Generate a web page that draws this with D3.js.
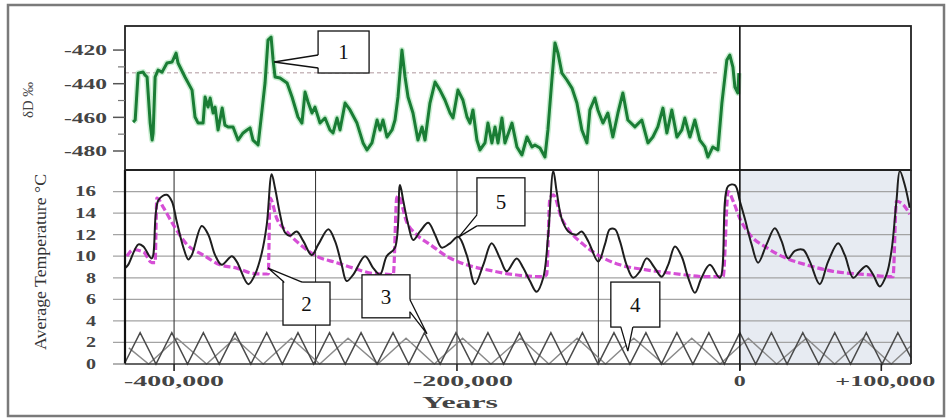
<!DOCTYPE html>
<html><head><meta charset="utf-8">
<script src="https://cdn.jsdelivr.net/npm/d3@7"></script>
<style>body{margin:0;background:#fff}</style>
</head><body><svg id="c" width="946" height="418"></svg>
<script>
// ---------- DATA (time in thousands of years) ----------
const dDTime=[-429.0,-427.5,-425.4,-421.9,-420.5,-419.1,-416.9,-415.5,-414.8,-413.4,-411.3,-408.5,-405.0,-401.4,-398.6,-397.2,-392.3,-387.3,-385.2,-383.0,-379.5,-378.1,-376.0,-374.5,-372.4,-371.0,-368.9,-366.0,-364.1,-361.8,-358.3,-354.8,-351.2,-348.4,-346.3,-344.2,-340.6,-337.8,-335.7,-333.6,-331.4,-330.0,-328.6,-325.1,-320.1,-316.6,-312.4,-309.6,-307.4,-305.3,-302.5,-300.4,-296.8,-293.3,-289.8,-287.6,-284.8,-282.7,-279.1,-275.6,-270.7,-266.4,-263.6,-260.1,-256.5,-254.4,-252.3,-249.5,-245.9,-243.8,-241.7,-238.9,-236.7,-234.6,-231.1,-227.6,-224.7,-222.6,-219.1,-215.5,-212.0,-208.5,-204.9,-202.8,-199.3,-195.8,-192.9,-190.8,-188.7,-185.9,-183.7,-180.2,-178.1,-175.3,-173.1,-171.0,-168.2,-166.1,-161.1,-157.6,-154.1,-150.5,-147.0,-144.9,-141.3,-137.8,-135.7,-132.9,-130.7,-128.6,-125.8,-122.3,-118.7,-115.2,-111.7,-108.1,-106.0,-102.5,-100.4,-96.8,-93.3,-89.8,-86.2,-82.7,-79.2,-74.2,-69.3,-65.0,-61.5,-58.0,-54.4,-51.6,-48.1,-44.5,-41.0,-38.9,-35.3,-31.8,-28.3,-24.7,-22.6,-19.1,-15.5,-12.7,-9.2,-7.1,-4.9,-3.5,-1.4,-0.7];
const dDValue=[-462.8,-461.6,-433.7,-433.1,-434.9,-436.0,-463.4,-473.5,-469.3,-436.0,-431.9,-433.1,-427.7,-427.1,-421.8,-427.7,-436.0,-443.8,-459.8,-463.4,-463.4,-447.9,-453.9,-448.5,-457.4,-453.9,-467.5,-454.5,-464.6,-465.7,-465.7,-473.5,-469.3,-467.5,-466.3,-473.5,-476.4,-455.6,-439.6,-414.1,-412.3,-425.9,-436.0,-436.6,-439.6,-447.9,-459.8,-463.4,-445.0,-450.9,-457.4,-453.9,-463.4,-460.4,-467.5,-469.3,-460.4,-467.5,-451.5,-455.6,-463.4,-475.2,-479.4,-475.2,-461.6,-467.5,-461.6,-471.7,-467.5,-461.6,-447.9,-420.0,-436.0,-447.9,-457.4,-473.5,-465.7,-473.5,-451.5,-439.0,-443.8,-449.7,-457.4,-460.4,-443.8,-449.7,-459.8,-463.4,-455.6,-473.5,-479.4,-475.2,-463.4,-475.2,-465.7,-475.2,-460.4,-475.2,-463.4,-477.6,-482.4,-471.7,-477.6,-476.4,-478.2,-483.6,-467.5,-437.8,-415.8,-421.8,-433.7,-437.8,-442.6,-451.5,-467.5,-475.2,-455.6,-448.5,-455.6,-463.4,-457.4,-471.7,-457.4,-445.5,-461.6,-465.7,-461.6,-475.2,-471.7,-465.7,-454.5,-469.3,-455.6,-471.7,-467.5,-460.4,-471.7,-461.6,-473.5,-477.6,-483.6,-477.6,-479.4,-451.5,-425.9,-423.0,-430.1,-442.0,-445.5,-433.7];
const dDReference=-433.5;

const tempTime=[-434.6,-432.5,-425.2,-421.7,-415.8,-411.1,-405.2,-401.6,-398.1,-393.4,-389.9,-387.5,-380.4,-375.8,-371.0,-366.3,-359.2,-355.7,-347.5,-342.8,-338.0,-334.5,-331.0,-328.6,-325.1,-321.6,-318.0,-313.3,-308.6,-302.7,-298.0,-290.9,-286.2,-281.5,-278.0,-273.3,-265.0,-259.2,-254.4,-249.7,-243.8,-240.3,-237.9,-234.4,-230.9,-226.1,-220.3,-215.5,-210.8,-204.9,-199.1,-193.1,-187.3,-181.4,-175.5,-169.6,-164.9,-157.8,-153.1,-148.4,-143.7,-139.0,-135.5,-131.9,-129.5,-126.0,-121.3,-115.4,-111.9,-107.2,-100.1,-95.4,-91.9,-88.3,-84.8,-80.1,-75.4,-70.7,-65.9,-60.1,-55.3,-50.7,-45.9,-41.2,-36.5,-31.8,-27.1,-21.2,-14.1,-8.3,-3.5,0,3.5,8.3,12.9,18.9,24.7,29.5,34.1,38.9,44.7,49.5,56.5,62.4,69.5,74.2,80.1,84.8,89.5,94.2,98.9,103.7,107.2,110.7,113.1,116.6,120.1];
const tempValue=[8.9,9.2,11.1,10.9,9.8,15.2,15.7,15.1,13.2,10.8,9.7,10.1,12.8,12.0,10.1,9.2,10.0,9.5,7.4,8.3,10.3,12.9,17.6,16.3,13.9,12.2,11.9,12.3,11.4,10.1,11.1,12.5,11.4,9.2,7.7,8.3,10.0,8.9,8.3,10.0,10.8,16.6,15.1,12.9,11.5,12.3,13.1,12.0,10.8,11.2,11.8,10.1,7.4,9.2,11.2,9.8,8.6,9.8,8.9,7.7,6.7,8.0,12.0,17.9,16.0,13.5,12.3,12.0,12.3,11.4,9.5,11.1,12.5,12.5,11.4,9.2,8.0,8.6,9.8,8.9,8.1,9.2,10.9,10.0,8.0,6.6,8.0,9.2,8.0,16.5,16.6,15.1,13.5,11.1,9.4,11.1,12.6,11.4,9.8,10.5,10.6,9.5,7.4,9.5,11.2,10.1,8.0,8.6,9.1,8.3,7.2,8.3,10.5,15.1,17.9,16.6,14.5];

const modelTime=[-433.4,-428.8,-421.7,-415.8,-413.4,-412.2,-407.5,-400.5,-391.0,-379.3,-367.5,-355.7,-344.0,-335.7,-333.4,-332.2,-327.4,-320.4,-311.0,-299.2,-285.0,-273.3,-259.2,-250.9,-245.0,-242.6,-241.5,-235.6,-228.5,-219.1,-207.3,-193.1,-179.0,-160.2,-139.0,-136.6,-134.3,-131.9,-126.0,-120.1,-110.7,-98.9,-84.8,-67.1,-47.1,-23.5,-11.8,-8.3,-4.7,0,7.1,18.9,33.0,47.1,65.9,89.5,108.3,110.7,115.4,120.1];
const modelValue=[10.0,10.6,10.4,9.4,9.4,15.4,14.5,12.9,11.1,10.1,9.2,8.9,8.4,8.35,8.35,15.4,13.5,12.3,11.1,10.0,9.4,8.9,8.4,8.35,8.3,15.4,15.6,13.2,12.0,11.1,10.0,9.2,8.75,8.3,8.1,8.3,15.4,15.7,13.5,12.3,11.1,10.0,9.2,8.75,8.4,8.1,8.1,16.0,15.1,13.5,12.0,10.8,9.8,9.2,8.6,8.3,8.1,15.1,14.8,13.9];

const cycleATime=[-435.2,-424.0,-412.8,-401.6,-390.5,-379.3,-368.1,-356.9,-345.7,-334.5,-323.5,-312.4,-301.3,-290.1,-279.0,-267.8,-256.5,-245.2,-234.1,-223.0,-211.9,-200.7,-189.4,-178.1,-167.0,-155.8,-144.7,-133.6,-122.5,-111.3,-100.2,-89.0,-77.7,-66.4,-55.5,-44.5,-33.2,-21.9,-11.0,0,11.2,22.3,33.4,44.5,55.8,67.1,78.3,89.4,100.6,111.7,121.0];
const cycleAValue=[0,2.9,0,2.9,0,2.9,0,2.9,0,2.9,0,2.9,0,2.9,0,2.9,0,2.9,0,2.9,0,2.9,0,2.9,0,2.9,0,2.9,0,2.9,0,2.9,0,2.9,0,2.9,0,2.9,0,2.9,0,2.9,0,2.9,0,2.9,0,2.9,0,2.9,0.6];
const cycleBTime=[-432.0,-418.0,-398.0,-377.0,-357.0,-337.0,-317.0,-297.0,-277.0,-256.0,-236.0,-216.0,-196.0,-176.0,-155.0,-135.0,-115.0,-95.0,-75.0,-54.0,-34.0,-14.0,6.0,26.0,47.0,67.0,87.0,107.0,121.0];
const cycleBValue=[1.5,0,2.4,0,2.4,0,2.4,0,2.4,0,2.4,0,2.4,0,2.4,0,2.4,0,2.4,0,2.4,0,2.4,0,2.4,0,2.4,0,1.7];

const dDTicks=[-420,-440,-460,-480];
const dDMinorTicks=[-430,-450,-470];
const tempTicks=[0,2,4,6,8,10,12,14,16];
const yearTicks=[-400,-200,0,100];
const yearTickLabels=["-400,000","-200,000","0","+100,000"];
const yearGrid=[-400,-300,-200,-100];
const calloutLabels=["1","2","3","4","5"];
const calloutTipTime=[-329.3,-333.6,-221.2,-79.2,-198.6];
const calloutTipValue=[-427.1,8.9,2.8,1.2,11.8];
const calloutPanel=["top","bottom","bottom","bottom","bottom"];

// ---------- LAYOUT ----------
const svg=d3.select("#c");
const L=125,R=911,T1=26,B1=170,B2=364;
const x=d3.scaleLinear().domain([-434.7,121]).range([L,R]);
const yTop=d3.scaleLinear().domain([-491.3,-405.7]).range([B1,T1]);
const yBot=d3.scaleLinear().domain([0,18]).range([B2,B1]);
const serif="'Liberation Serif','DejaVu Serif',serif";

// outer frame
svg.append("rect").attr("x",8).attr("y",5).attr("width",936).attr("height",411)
  .attr("fill","#fff").attr("stroke","#7a7a7a").attr("stroke-width",2.5);

// shaded future region
svg.append("rect").attr("x",x(0)).attr("y",B1).attr("width",R-x(0)).attr("height",B2-B1).attr("fill","#e7ebf2");

// horizontal grid bottom
svg.append("g").selectAll("line").data(tempTicks.filter(d=>d>0)).join("line")
  .attr("x1",L-12).attr("x2",R).attr("y1",d=>yBot(d)).attr("y2",d=>yBot(d))
  .attr("stroke","#a3a3a3").attr("stroke-width",1.3);
// vertical grid bottom
svg.append("g").selectAll("line").data(yearGrid).join("line")
  .attr("x1",d=>x(d)).attr("x2",d=>x(d)).attr("y1",B1).attr("y2",B2)
  .attr("stroke","#3a3a3a").attr("stroke-width",1.1);

// reference dotted line top
svg.append("line").attr("x1",L).attr("x2",x(-15)).attr("y1",yTop(dDReference)).attr("y2",yTop(dDReference))
  .attr("stroke","#c9b9bd").attr("stroke-width",1.5).attr("stroke-dasharray","4,3");

// cycles
const lineC=(t,v)=>d3.line().x(i=>x(t[i])).y(i=>yBot(v[i]))(d3.range(t.length));
svg.append("path").attr("d",lineC(cycleBTime,cycleBValue)).attr("fill","none").attr("stroke","#8a8a8a").attr("stroke-width",1.4);
svg.append("path").attr("d",lineC(cycleATime,cycleAValue)).attr("fill","none").attr("stroke","#4a4a4a").attr("stroke-width",1.5);

// model (magenta dashed)
const lineM=d3.line().curve(d3.curveMonotoneX).x(i=>x(modelTime[i])).y(i=>yBot(modelValue[i]));
svg.append("path").attr("d",lineM(d3.range(modelTime.length))).attr("fill","none")
  .attr("stroke","#d23cd2").attr("stroke-width",3.2).attr("stroke-dasharray","7,3").attr("opacity",0.9);

// temperature (black)
const lineT=d3.line().curve(d3.curveCatmullRom.alpha(0.5)).x(i=>x(tempTime[i])).y(i=>yBot(tempValue[i]));
svg.append("path").attr("d",lineT(d3.range(tempTime.length))).attr("fill","none")
  .attr("stroke","#1e1e1e").attr("stroke-width",2);

// green dD
const lineD=d3.line().x(i=>x(dDTime[i])).y(i=>yTop(dDValue[i]));
const dPath=lineD(d3.range(dDTime.length));
svg.append("path").attr("d",dPath).attr("fill","none").attr("stroke","#8fdca0").attr("stroke-width",6).attr("opacity",0.45).attr("stroke-linejoin","round");
svg.append("path").attr("d",dPath).attr("fill","none").attr("stroke","#1a7d35").attr("stroke-width",3).attr("stroke-linejoin","round");

// panel frames
svg.append("rect").attr("x",L).attr("y",T1).attr("width",R-L).attr("height",B1-T1)
  .attr("fill","none").attr("stroke","#222").attr("stroke-width",1.8);
svg.append("line").attr("x1",L).attr("x2",L).attr("y1",B1).attr("y2",B2).attr("stroke","#111").attr("stroke-width",2.2);
svg.append("line").attr("x1",R).attr("x2",R).attr("y1",B1).attr("y2",B2).attr("stroke","#222").attr("stroke-width",1.8);
svg.append("line").attr("x1",L).attr("x2",R).attr("y1",B2).attr("y2",B2).attr("stroke","#333").attr("stroke-width",1.6);
svg.append("line").attr("x1",L).attr("x2",R).attr("y1",B1).attr("y2",B1).attr("stroke","#222").attr("stroke-width",2);
svg.append("line").attr("x1",x(0)).attr("x2",x(0)).attr("y1",T1).attr("y2",B2+6).attr("stroke","#111").attr("stroke-width",1.6);

// top axis ticks & labels
const gTop=svg.append("g");
gTop.selectAll("line.maj").data(dDTicks).join("line").attr("x1",L-12).attr("x2",L).attr("y1",d=>yTop(d)).attr("y2",d=>yTop(d)).attr("stroke","#555").attr("stroke-width",1.5);
gTop.selectAll("line.min").data(dDMinorTicks).join("line").attr("x1",L-7).attr("x2",L).attr("y1",d=>yTop(d)).attr("y2",d=>yTop(d)).attr("stroke","#777").attr("stroke-width",1.2);
gTop.selectAll("text").data(dDTicks).join("text").attr("x",L-18).attr("y",d=>yTop(d)).attr("dy","0.35em")
  .attr("text-anchor","end").attr("font-family",serif).attr("font-weight","bold").attr("font-size",15)
  .attr("textLength",43).attr("lengthAdjust","spacingAndGlyphs").attr("fill","#444").text(d=>d);

// bottom-left ticks labels
svg.append("g").selectAll("text").data(tempTicks).join("text").attr("x",L-29).attr("y",d=>yBot(d)).attr("dy","0.35em")
  .attr("text-anchor","end").attr("font-family",serif).attr("font-weight","bold").attr("font-size",14)
  .attr("textLength",d=>d>=10?21:10).attr("lengthAdjust","spacingAndGlyphs").attr("fill","#444").text(d=>d);
svg.append("line").attr("x1",L-12).attr("x2",L).attr("y1",B2).attr("y2",B2).attr("stroke","#888").attr("stroke-width",1.3);

// x ticks
svg.append("g").selectAll("line").data(yearTicks).join("line").attr("x1",d=>x(d)).attr("x2",d=>x(d)).attr("y1",B2).attr("y2",B2+7).attr("stroke","#222").attr("stroke-width",1.6);
svg.append("g").selectAll("text").data(yearTicks).join("text").attr("x",d=>x(d)+(d===100?4:d===-200?6:0)).attr("y",386)
  .attr("text-anchor","middle").attr("font-family",serif).attr("font-weight","bold").attr("font-size",15)
  .each(function(d,i){ d3.select(this).attr("textLength",yearTickLabels[i].length>3?100:12).attr("lengthAdjust","spacingAndGlyphs"); })
  .attr("fill","#444").text((d,i)=>yearTickLabels[i]);
svg.append("text").attr("x",x(-200)+3).attr("y",408).attr("text-anchor","middle").attr("font-family",serif).attr("font-weight","bold")
  .attr("font-size",17).attr("textLength",76).attr("lengthAdjust","spacingAndGlyphs").attr("fill","#444").text("Years");

// y titles
svg.append("text").attr("transform","translate(33,100) rotate(-90)").attr("text-anchor","middle").attr("font-family",serif)
  .attr("font-size",14).attr("textLength",36).attr("lengthAdjust","spacingAndGlyphs").attr("fill","#444").text("δD ‰");
svg.append("text").attr("transform","translate(46,262) rotate(-90)").attr("text-anchor","middle").attr("font-family",serif)
  .attr("font-size",17).attr("fill","#333").attr("textLength",176).attr("lengthAdjust","spacingAndGlyphs").text("Average Temperature °C");

// callouts
const boxes=[
  {dx:44,dy:-31,w:51,h:42,b:[[44,-7],[44,6]]},
  {dx:15,dy:14,w:47,h:43,b:[[16,14],[34,14]]},
  {dx:-65,dy:-59,w:48,h:43,b:[[-17,-34],[-17,-22]]},
  {dx:-17,dy:-69,w:49,h:45,b:[[-7,-24],[5,-24]]},
  {dx:18,dy:-59,w:48,h:48,b:[[18,-22],[18,-11]]}
];
calloutLabels.forEach((lab,i)=>{
  const tx=x(calloutTipTime[i]);
  const ty=calloutPanel[i]==="top"?yTop(calloutTipValue[i]):yBot(calloutTipValue[i]);
  const bx=boxes[i];
  const g=svg.append("g");
  g.append("rect").attr("x",tx+bx.dx).attr("y",ty+bx.dy).attr("width",bx.w).attr("height",bx.h)
    .attr("fill","#fff").attr("stroke","#111").attr("stroke-width",1.3);
  const p1=[tx+bx.b[0][0],ty+bx.b[0][1]], p2=[tx+bx.b[1][0],ty+bx.b[1][1]];
  const cx=tx+bx.dx+bx.w/2, cy=ty+bx.dy+bx.h/2;
  const inw=(p)=>{const vx=cx-p[0],vy=cy-p[1],l=Math.hypot(vx,vy);return [p[0]+vx/l*3,p[1]+vy/l*3];};
  g.append("polygon").attr("points",[[tx,ty],p1,inw(p1),inw(p2),p2].map(p=>p.join(",")).join(" ")).attr("fill","#fff");
  g.append("polyline").attr("points",[p1,[tx,ty],p2].map(p=>p.join(",")).join(" ")).attr("fill","none").attr("stroke","#111").attr("stroke-width",1.3);
  g.append("text").attr("x",cx).attr("y",cy).attr("dy","0.35em").attr("text-anchor","middle")
    .attr("font-family",serif).attr("font-size",21).attr("fill","#111").text(lab);
});
</script></body></html>
